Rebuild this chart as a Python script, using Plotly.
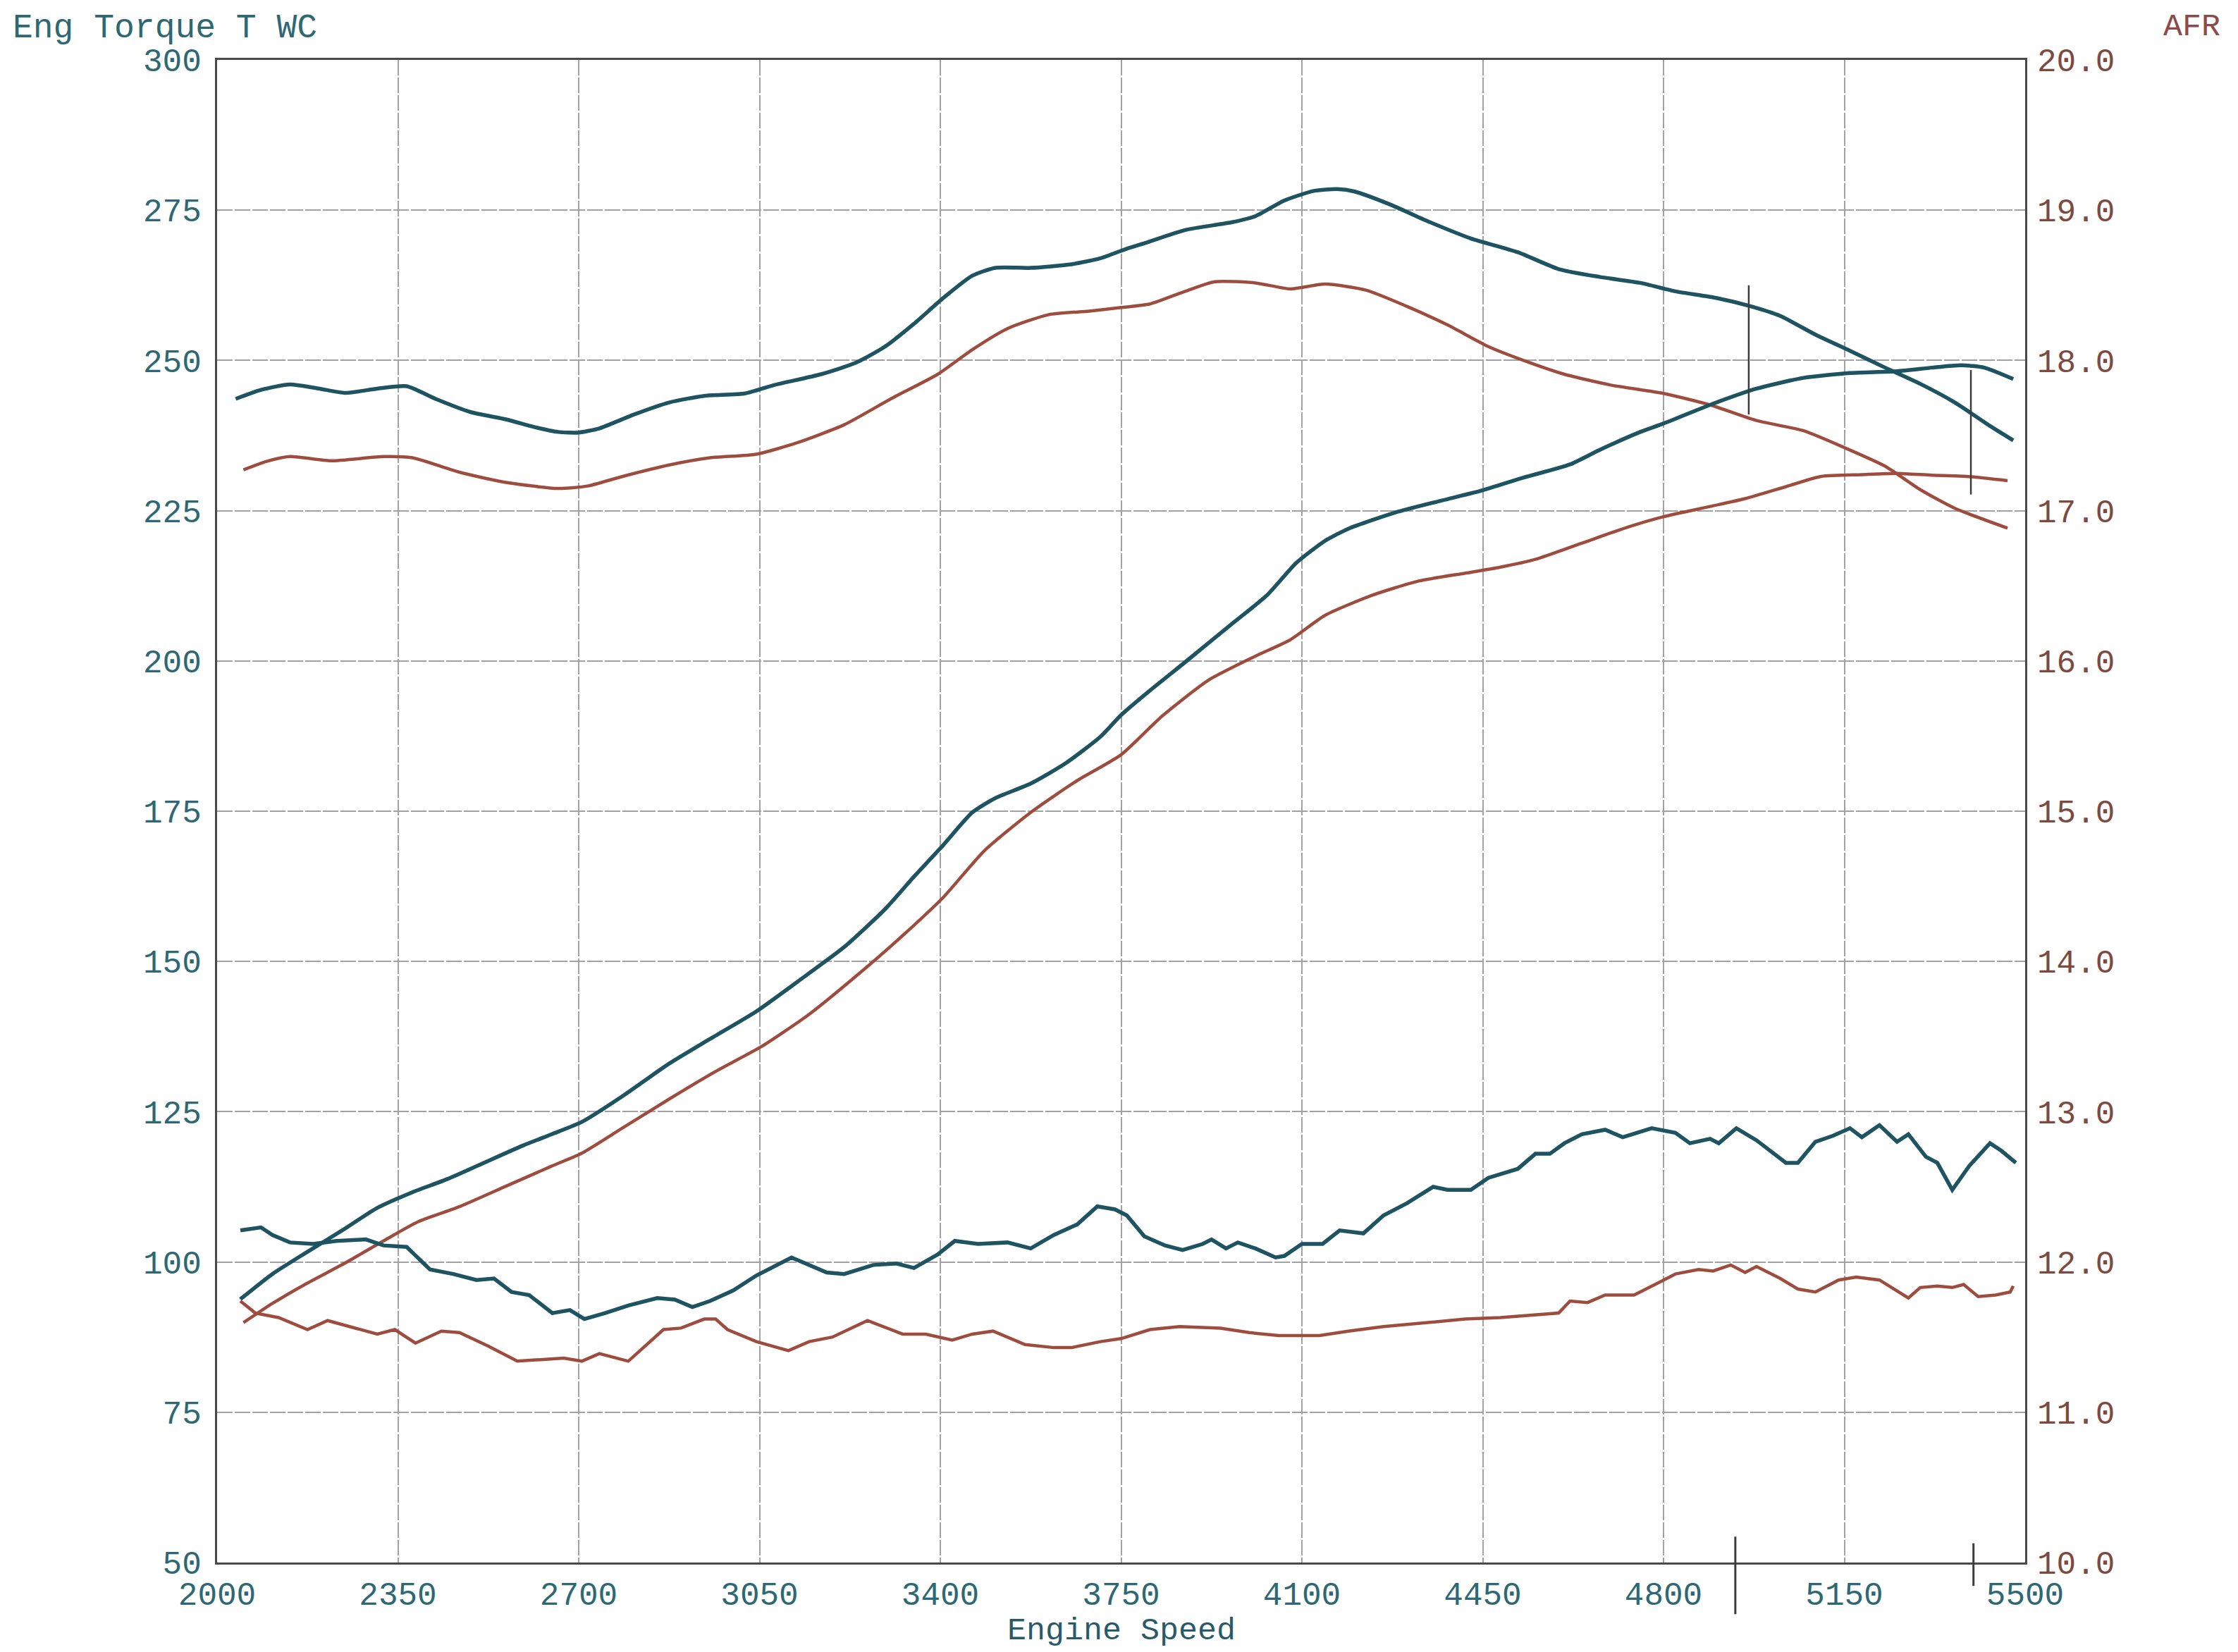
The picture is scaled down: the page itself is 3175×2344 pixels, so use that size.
import plotly.graph_objects as go

# ---------------- data ----------------
x_ticks = [2000, 2350, 2700, 3050, 3400, 3750, 4100, 4450, 4800, 5150, 5500]
y_ticks = [50, 75, 100, 125, 150, 175, 200, 225, 250, 275, 300]
afr_ticks = [10.0, 11.0, 12.0, 13.0, 14.0, 15.0, 16.0, 17.0, 18.0, 19.0, 20.0]

# Torque, run A (teal)
rpm_tq_a = [2036, 2085, 2141, 2198, 2248, 2310, 2367, 2423, 2491, 2559, 2615, 2660, 2700, 2740,
            2807, 2875, 2943, 3022, 3078, 3169, 3236, 3293, 3349, 3406, 3462, 3507, 3575, 3654,
            3710, 3761, 3795, 3874, 3965, 4010, 4066, 4123, 4168, 4202, 4269, 4348, 4427, 4518,
            4597, 4676, 4755, 4823, 4902, 4969, 5026, 5094, 5161, 5229, 5297, 5364, 5432, 5477]
tq_a = [243.6, 245.1, 246.0, 245.3, 244.6, 245.3, 245.7, 243.6, 241.4, 240.2, 238.9, 238.1, 238.0, 238.7,
        241.0, 243.0, 244.1, 244.5, 245.9, 247.7, 249.6, 252.3, 256.1, 260.4, 264.1, 265.4, 265.4, 266.0,
        267.0, 268.6, 269.5, 271.7, 273.0, 274.0, 276.6, 278.2, 278.5, 278.1, 276.0, 273.0, 270.3, 268.0,
        265.2, 263.9, 262.9, 261.5, 260.4, 259.0, 257.4, 254.3, 251.6, 248.8, 246.1, 243.0, 239.1, 236.7]

# Torque, run B (brown)
rpm_tq_b = [2051, 2096, 2141, 2220, 2322, 2378, 2469, 2559, 2660, 2717, 2785, 2875, 2954, 3044,
            3123, 3214, 3304, 3395, 3462, 3530, 3609, 3688, 3750, 3806, 3874, 3931, 4010, 4077,
            4145, 4224, 4303, 4382, 4461, 4529, 4608, 4698, 4800, 4890, 4980, 5071, 5150, 5229,
            5297, 5364, 5466]
tq_b = [231.8, 233.2, 234.0, 233.3, 234.0, 233.8, 231.4, 229.7, 228.7, 229.1, 230.7, 232.6, 233.8, 234.4,
        236.3, 239.3, 243.6, 247.7, 251.8, 255.3, 257.6, 258.2, 258.8, 259.4, 261.5, 263.1, 262.9, 261.9,
        262.7, 261.7, 259.0, 255.9, 252.3, 250.0, 247.7, 245.9, 244.5, 242.6, 240.0, 238.3, 235.5, 232.4,
        228.5, 225.4, 222.1]

# Power, run A (teal)
rpm_hp_a = [2045, 2107, 2175, 2243, 2310, 2378, 2446, 2514, 2593, 2649, 2706, 2785, 2875, 2954,
            3044, 3123, 3214, 3293, 3349, 3406, 3462, 3507, 3575, 3643, 3710, 3750, 3806, 3874,
            3965, 4032, 4089, 4145, 4190, 4281, 4371, 4450, 4529, 4619, 4676, 4755, 4800, 4890,
            4980, 5071, 5161, 5252, 5319, 5376, 5421, 5477]
hp_a = [93.8, 98.0, 101.7, 105.3, 109.0, 111.6, 113.8, 116.4, 119.4, 121.3, 123.3, 127.6, 133.0, 137.1,
        141.7, 146.6, 152.4, 158.7, 164.1, 169.4, 174.8, 177.2, 179.6, 183.0, 187.4, 191.0, 195.1, 199.8,
        206.2, 210.9, 216.3, 220.0, 222.0, 224.7, 226.7, 228.4, 230.5, 232.7, 235.1, 238.1, 239.5, 242.6,
        245.3, 247.1, 247.9, 248.2, 248.8, 249.2, 248.8, 246.9]

# Power, run B (brown)
rpm_hp_b = [2051, 2107, 2175, 2243, 2322, 2389, 2469, 2559, 2649, 2706, 2785, 2875, 2965, 3055,
            3146, 3236, 3327, 3406, 3485, 3575, 3665, 3750, 3829, 3919, 4010, 4077, 4145, 4235,
            4326, 4416, 4484, 4552, 4642, 4732, 4800, 4890, 4958, 5037, 5105, 5184, 5252, 5319,
            5387, 5466]
hp_b = [89.9, 93.1, 96.5, 99.6, 103.5, 106.7, 109.2, 112.6, 116.0, 118.1, 122.3, 127.1, 131.7, 135.9,
        141.2, 147.5, 154.3, 160.7, 168.4, 174.8, 180.1, 184.4, 190.8, 196.8, 200.8, 203.5, 207.6, 210.9,
        213.3, 214.6, 215.6, 216.9, 219.6, 222.3, 224.0, 225.7, 227.0, 229.0, 230.7, 231.0, 231.2, 230.9,
        230.7, 230.0]

# AFR, run A (teal)
rpm_afr_a = [2045, 2085, 2107, 2141, 2186, 2231, 2288, 2322, 2367, 2412, 2457, 2502, 2536, 2570,
             2604, 2649, 2683, 2711, 2751, 2796, 2852, 2886, 2920, 2954, 2999, 3044, 3112, 3180,
             3214, 3270, 3315, 3349, 3395, 3428, 3473, 3530, 3575, 3620, 3665, 3704, 3738, 3761,
             3795, 3835, 3869, 3908, 3925, 3953, 3976, 4010, 4049, 4066, 4100, 4140, 4173, 4219,
             4258, 4303, 4354, 4382, 4427, 4461, 4518, 4552, 4580, 4608, 4642, 4687, 4721, 4777,
             4823, 4851, 4890, 4907, 4941, 4980, 5037, 5060, 5094, 5128, 5161, 5184, 5218, 5252,
             5274, 5308, 5330, 5359, 5392, 5432, 5454, 5482]
afr_a = [12.21, 12.23, 12.18, 12.13, 12.12, 12.14, 12.15, 12.11, 12.10, 11.95, 11.92, 11.88, 11.89, 11.80,
         11.78, 11.66, 11.68, 11.62, 11.66, 11.71, 11.76, 11.75, 11.70, 11.74, 11.81, 11.91, 12.03, 11.93,
         11.92, 11.98, 11.99, 11.96, 12.05, 12.14, 12.12, 12.13, 12.09, 12.18, 12.25, 12.37, 12.35, 12.31,
         12.17, 12.11, 12.08, 12.12, 12.15, 12.09, 12.13, 12.09, 12.03, 12.04, 12.12, 12.12, 12.21, 12.19,
         12.31, 12.39, 12.50, 12.48, 12.48, 12.56, 12.62, 12.72, 12.72, 12.79, 12.85, 12.88, 12.83, 12.89,
         12.86, 12.79, 12.82, 12.79, 12.89, 12.81, 12.66, 12.66, 12.80, 12.84, 12.89, 12.83, 12.91, 12.80,
         12.85, 12.70, 12.66, 12.48, 12.64, 12.79, 12.74, 12.66]

# AFR, run B (brown)
rpm_afr_b = [2045, 2074, 2119, 2175, 2214, 2265, 2310, 2344, 2384, 2434, 2469, 2525, 2581, 2626,
             2671, 2706, 2740, 2796, 2864, 2898, 2943, 2965, 2988, 3044, 3106, 3146, 3191, 3259,
             3327, 3372, 3423, 3462, 3502, 3564, 3620, 3654, 3710, 3750, 3806, 3863, 3942, 3998,
             4055, 4134, 4190, 4258, 4348, 4416, 4484, 4563, 4597, 4619, 4653, 4687, 4743, 4789,
             4823, 4868, 4896, 4930, 4958, 4980, 5026, 5060, 5094, 5139, 5173, 5218, 5274, 5297,
             5330, 5359, 5381, 5409, 5443, 5471, 5477]
afr_b = [11.74, 11.66, 11.63, 11.55, 11.61, 11.56, 11.52, 11.55, 11.46, 11.54, 11.53, 11.44, 11.34, 11.35,
         11.36, 11.34, 11.39, 11.34, 11.55, 11.56, 11.62, 11.62, 11.55, 11.47, 11.41, 11.47, 11.50, 11.61,
         11.52, 11.52, 11.48, 11.52, 11.54, 11.45, 11.43, 11.43, 11.47, 11.49, 11.55, 11.57, 11.56, 11.53,
         11.51, 11.51, 11.54, 11.57, 11.60, 11.62, 11.63, 11.65, 11.66, 11.74, 11.73, 11.78, 11.78, 11.86,
         11.92, 11.95, 11.94, 11.98, 11.93, 11.97, 11.89, 11.82, 11.80, 11.88, 11.90, 11.88, 11.76, 11.83,
         11.84, 11.83, 11.85, 11.77, 11.78, 11.80, 11.84]

# cursor marks (rpm, span in torque units)
cursor_plot_rpm = [4965, 5395]
cursor_plot_lo = [241.0, 227.7]
cursor_plot_hi = [262.5, 248.4]
cursor_axis_rpm = [4939, 5400]
cursor_axis_lo = [41.4, 46.1]
cursor_axis_hi = [54.3, 53.2]

# ---------------- figure ----------------
TEAL = "#1e5361"
BROWN = "#9e4c3e"
TEAL_TXT = "#2f6875"
BROWN_TXT = "#7d4a40"
FONT = "Liberation Mono"
FS = 46
Y_MIN, Y_MAX = 50, 300

fig = go.Figure()

def add_line(x, y, color, width, yaxis="y", shape="spline"):
    line = dict(color=color, width=width, shape=shape)
    if shape == "spline":
        line["smoothing"] = 0.6
    fig.add_trace(go.Scatter(x=x, y=y, mode="lines", line=line, yaxis=yaxis,
                             showlegend=False, hoverinfo="x+y"))

add_line(rpm_tq_a, tq_a, TEAL, 5.5)
add_line(rpm_tq_b, tq_b, BROWN, 4.5)
add_line(rpm_hp_a, hp_a, TEAL, 5.5)
add_line(rpm_hp_b, hp_b, BROWN, 4.5)
add_line(rpm_afr_a, afr_a, TEAL, 5.5, yaxis="y2", shape="linear")
add_line(rpm_afr_b, afr_b, BROWN, 4.5, yaxis="y2", shape="linear")

for r, lo, hi in zip(cursor_plot_rpm, cursor_plot_lo, cursor_plot_hi):
    fig.add_shape(type="line", xref="x", yref="y", x0=r, x1=r, y0=lo, y1=hi,
                  line=dict(color="#3c3c3c", width=2.5))
for r, lo, hi in zip(cursor_axis_rpm, cursor_axis_lo, cursor_axis_hi):
    fig.add_shape(type="line", xref="x", yref="paper", x0=r, x1=r,
                  y0=(lo - Y_MIN) / (Y_MAX - Y_MIN), y1=(hi - Y_MIN) / (Y_MAX - Y_MIN),
                  line=dict(color="#3c3c3c", width=3))

# scan edge line at the far left
fig.add_shape(type="line", xref="paper", yref="paper",
              x0=-0.1188, x1=-0.1188, y0=-0.06, y1=1.04,
              line=dict(color="#b8b8b8", width=3))

grid = dict(showgrid=True, gridcolor="#a2a2a2", gridwidth=1.6, griddash="22px,3px")
axline = dict(showline=True, linecolor="#4a4a4a", linewidth=3, mirror=True, zeroline=False, ticks="")

# page body has an 8px default margin: figure is sized/margined to compensate
fig.update_layout(
    width=3167, height=2336,
    margin=dict(l=300, r=302, t=77, b=127, autoexpand=False),
    paper_bgcolor="white", plot_bgcolor="white",
    showlegend=False,
    xaxis=dict(range=[2000, 5500], tickvals=x_ticks, ticktext=[str(v) for v in x_ticks],
               tickfont=dict(family=FONT, size=FS, color=TEAL_TXT), ticklabelstandoff=2,
               **grid, **axline),
    yaxis=dict(range=[Y_MIN, Y_MAX], tickvals=y_ticks, ticktext=[str(v) for v in y_ticks],
               tickfont=dict(family=FONT, size=FS, color=TEAL_TXT), ticklabelstandoff=10,
               **grid, **axline),
    yaxis2=dict(range=[10, 20], tickvals=afr_ticks, ticktext=[f"{v:.1f}" for v in afr_ticks],
                overlaying="y", side="right", showgrid=False, zeroline=False, showline=False,
                ticks="", tickfont=dict(family=FONT, size=FS, color=BROWN_TXT),
                ticklabelstandoff=16),
    annotations=[
        dict(text="Eng Torque T WC", xref="paper", yref="paper", x=-0.1138, y=1.0345,
             xanchor="left", yanchor="top", showarrow=False,
             font=dict(family=FONT, size=48, color=TEAL_TXT)),
        dict(text="AFR", xref="paper", yref="paper", x=1.0755, y=1.0345,
             xanchor="left", yanchor="top", showarrow=False,
             font=dict(family=FONT, size=45, color="#8c4a48")),
        dict(text="Engine Speed", xref="paper", yref="paper", x=0.5, y=-0.0585,
             xanchor="center", yanchor="bottom", showarrow=False,
             font=dict(family=FONT, size=45, color="#2a5a6a")),
    ],
)

fig.write_html("out.html")
